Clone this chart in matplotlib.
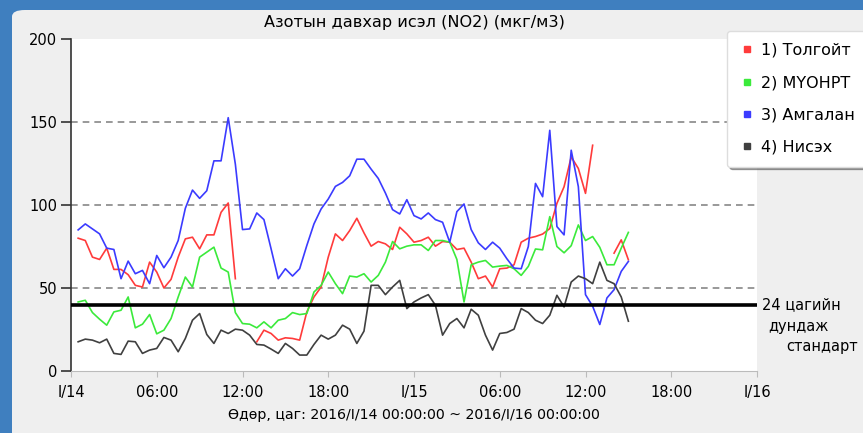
import numpy as np
import matplotlib
matplotlib.use("Agg")
import matplotlib.pyplot as plt
from matplotlib.patches import FancyBboxPatch
from matplotlib.lines import Line2D

nan = np.nan

# half-hourly readings, 2016/I/14 00:30 .. 2016/I/15 15:00
hours = np.arange(0.5, 39.01, 0.5)

tolgoit = [80, 78.6, 68.6, 67.2, 74, 61.2, 61.2, 58, 51.6, 50.6, 65.6, 59.6, 50, 55.2, 68.6,
           79.6, 80.6, 73.6, 82, 82, 95.6, 101.2, 55.6, nan, nan, 17.6, 24.6, 22.6, 18.6, 20, 19.6,
           18.6, 35.6, 44.6, 50.6, 68.6, 82.6, 78.6, 84.6, 92, 83.2, 75.2, 78, 76.6, 73.2, 86.6, 82.6,
           77.6, 78.6, 80.6, 75.2, 78, 77.6, 73.2, 74, 65.6, 55.6, 57.2, 50.6, 61.6, 62, 64, 77.6,
           80, 81, 82.5, 85.8, 101, 111, 129, 122, 107, 136, nan, nan, 71, 79, 67]

muonrt = [41.6, 42.6, 35.2, 31.2, 27.6, 35.6, 36.6, 44.6, 26, 28.2, 34, 22.4, 24.6, 31.6, 44.6,
          56.6, 50.6, 68.6, 71.6, 74.6, 62, 59.6, 35.2, 28.6, 28.2, 26, 29.6, 26, 30.6, 31.6, 35.2,
          34, 34.6, 47.6, 51.6, 59.6, 52.6, 46.6, 57.2, 56.6, 58.6, 53.6, 57.6, 65.6, 78, 73.6, 75.2,
          76, 76, 72.6, 78.6, 78.6, 77.6, 67.2, 41.6, 64, 65.6, 66.6, 62.6, 63.2, 63.6, 61.6, 57.6,
          63, 73.5, 73, 93, 75, 71.2, 75.5, 88, 78.6, 81, 74.5, 64, 64, 74, 83.5]

amgalan = [85, 88.6, 85.6, 82.6, 74, 73.2, 55.6, 66.2, 58.6, 60.6, 52.6, 69.6, 62.2, 68.6, 78.6,
           98, 109, 104, 108.6, 126.6, 126.6, 152.6, 124.6, 85.2, 85.6, 95.2, 91.2, 73.6, 55.6, 61.6, 57.2,
           61.6, 75.6, 88.6, 97.6, 103.6, 111.2, 113.6, 117.6, 127.6, 127.6, 121.6, 116, 107.2, 97.2, 94.6, 103.2,
           93.6, 91.6, 95.2, 91.2, 89.6, 77.6, 96, 100.6, 85.2, 77.2, 73.2, 77.6, 74, 67.6, 62, 61.6,
           75, 113, 105, 145, 87, 82, 133, 111, 46, 39, 28, 44, 49, 60, 66]

nisekh = [17.6, 19.2, 18.6, 17, 19.2, 10.6, 10, 18, 17.6, 10.6, 12.6, 13.6, 20.2, 18.6, 11.6,
          19.6, 30.6, 34.6, 22, 16.6, 24.6, 22.6, 25.2, 24.6, 21.6, 16, 15.6, 13.2, 10.6, 16.6, 13.6,
          9.6, 9.6, 16, 21.6, 19.2, 21.6, 27.6, 25.2, 16.6, 24, 51.6, 51.6, 46, 50.6, 54.6, 37.6,
          41.6, 44, 46, 39.6, 21.6, 28.6, 31.6, 26, 37.2, 33.6, 21.6, 12.6, 22.6, 23.2, 25.2, 37.6,
          35.2, 30.6, 28.6, 33.6, 45.6, 38.6, 53.6, 57.2, 55.6, 52.6, 65.6, 54.6, 52.6, 44.6, 30]

labels = ["1) Толгойт", "2) МҮОНРТ", "3) Амгалан", "4) Нисэх"]
colors = ["#ff3b3b", "#3bea3b", "#3b3bff", "#404040"]
xticks = [0, 6, 12, 18, 24, 30, 36, 42, 48]
xticklabels = ["I/14", "06:00", "12:00", "18:00", "I/15", "06:00", "12:00", "18:00", "I/16"]
standard = 40

W, H = 863, 433
fig = plt.figure(figsize=(W / 100, H / 100), dpi=100, facecolor="#3f7fbf")

# light gray panel over the blue frame
panel = FancyBboxPatch((12 / W, -0.05), 1.0, 1 - 10 / H + 0.05,
                       boxstyle="round,pad=0,rounding_size=0.015",
                       transform=fig.transFigure, facecolor="#efefef", edgecolor="none",
                       zorder=-10)
fig.patches.append(panel)

ax = fig.add_axes([71 / W, 62 / H, 686 / W, 332 / H])
ax.set_facecolor("white")

for vals, c in zip([tolgoit, muonrt, amgalan, nisekh], colors):
    ax.plot(hours, vals, color=c, lw=1.2)

for g in [50, 100, 150]:
    ax.axhline(g, color="#888888", lw=1.2, ls=(0, (4, 3)), zorder=0)
ax.axhline(standard, color="black", lw=2.6, zorder=5)

ax.set_xlim(0, 48)
ax.set_ylim(0, 200)
ax.set_xticks(xticks)
ax.set_xticklabels(xticklabels, fontsize=10.5)
ax.set_yticks([0, 50, 100, 150, 200])
ax.set_yticklabels(["0", "50", "100", "150", "200"], fontsize=10.5)
ax.tick_params(axis="y", length=7, width=1.2, color="#333333", pad=3)
ax.tick_params(axis="x", length=4, width=0.8, color="#bbbbbb", pad=6)
for s in ["top", "right"]:
    ax.spines[s].set_visible(False)
ax.spines["left"].set_color("#333333")
ax.spines["left"].set_linewidth(1.2)
ax.spines["bottom"].set_color("#bbbbbb")

ax.set_title("Азотын давхар исэл (NO2) (мкг/м3)", fontsize=11.6, pad=9)
ax.set_xlabel("Өдөр, цаг: 2016/I/14 00:00:00 ~ 2016/I/16 00:00:00",
              fontsize=10.2, labelpad=6)

fig.text(762 / W, 1 - 305 / H, "24 цагийн", fontsize=10.5, va="center", ha="left")
fig.text(768 / W, 1 - 327 / H, "дундаж", fontsize=10.5, va="center", ha="left")
fig.text(786 / W, 1 - 347 / H, "стандарт", fontsize=10.5, va="center", ha="left")

handles = [Line2D([], [], ls="none", marker="s", markersize=5, color=c) for c in colors]
leg = fig.legend(handles, labels, loc="upper left", bbox_to_anchor=(727 / W, 1 - 31 / H),
                 bbox_transform=fig.transFigure, fontsize=11.5, frameon=True, fancybox=True,
                 shadow=True, labelspacing=1.08, handletextpad=0.4, handlelength=1.0,
                 borderpad=0.75, borderaxespad=0)
leg.get_frame().set_edgecolor("#dddddd")
leg.get_frame().set_facecolor("white")
leg.get_frame().set_alpha(1)

fig.savefig("out.png", dpi=100, facecolor=fig.get_facecolor())
